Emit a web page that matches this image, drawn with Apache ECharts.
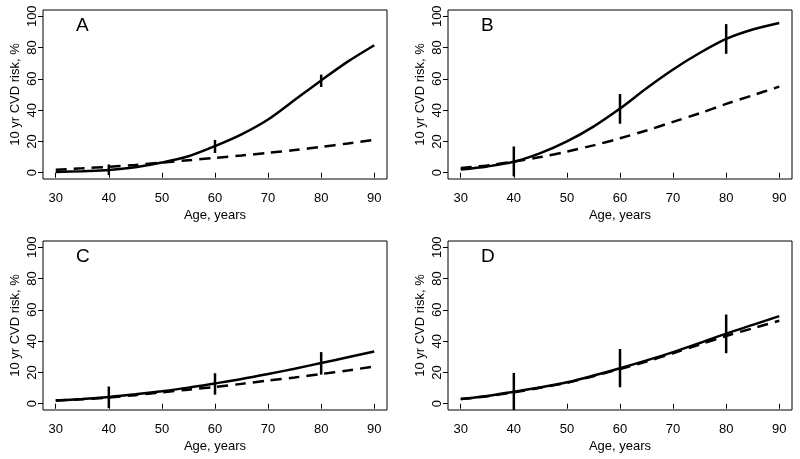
<!DOCTYPE html>
<html>
<head>
<meta charset="utf-8">
<script src="https://cdn.jsdelivr.net/npm/echarts@6/dist/echarts.min.js"></script>
<style>html,body{margin:0;padding:0;background:#fff}#c{width:800px;height:459px}</style>
</head>
<body>
<div id="c"></div>
<script>
// ---- data ----
const ages = [30, 35, 40, 45, 50, 55, 60, 65, 70, 75, 80, 85, 90];
const panelLabels = ['A', 'B', 'C', 'D'];
const xTicks = [30, 40, 50, 60, 70, 80, 90];
const yTicks = [0, 20, 40, 60, 80, 100];

const solidA  = [0.5, 1.0, 1.7, 3.5, 6.5, 10.5, 17, 24.5, 34, 46.5, 59, 71, 81.5];
const dashedA = [1.9, 2.8, 3.8, 5.0, 6.5, 8.0, 9.5, 11, 12.7, 14.5, 16.5, 18.7, 21];
const solidB  = [2, 4, 7, 12.5, 20, 29.5, 41, 54, 66, 76.5, 85.5, 91.5, 95.7];
const dashedB = [3, 4.7, 7.2, 10, 13.5, 17.5, 22, 27, 32.5, 38, 44, 49.5, 55];
const solidC  = [2, 3, 4.3, 6, 8, 10.3, 13, 15.8, 19, 22.4, 26, 29.7, 33.4];
const dashedC = [2, 2.9, 4, 5.5, 7.3, 9, 10.7, 12.7, 14.8, 16.8, 19, 21.3, 23.8];
const solidD  = [3, 5, 7.7, 10.5, 13.7, 18, 22.7, 27.7, 33, 38.8, 44.8, 50.4, 56];
const dashedD = [3, 4.8, 7.3, 10.2, 13.4, 17.6, 22.2, 27, 32.3, 37.8, 43.3, 48.2, 53];

const ciAges = [40, 60, 80];
const ciLowA  = [-1.5, 12.6, 54.8];
const ciHighA = [5.3, 21, 62.7];
const ciLowB  = [-2.3, 31.3, 76];
const ciHighB = [16.8, 50.3, 95];
const ciLowC  = [-2.8, 5.8, 18.6];
const ciHighC = [11, 19.5, 33];
const ciLowD  = [-4.9, 10.5, 32.3];
const ciHighD = [19.7, 35, 57];

const solids = [solidA, solidB, solidC, solidD];
const dasheds = [dashedA, dashedB, dashedC, dashedD];
const ciLows = [ciLowA, ciLowB, ciLowC, ciLowD];
const ciHighs = [ciHighA, ciHighB, ciHighC, ciHighD];

// ---- layout ----
const FONT = 'Liberation Sans, Arial, Helvetica, sans-serif';
const grids = [
  {left: 43, top: 10, width: 344, height: 169},
  {left: 448, top: 10, width: 344, height: 169},
  {left: 43, top: 241, width: 344, height: 169},
  {left: 448, top: 241, width: 344, height: 169}
];

const chart = echarts.init(document.getElementById('c'), null, {renderer: 'canvas'});

const xAxes = [], yAxes = [], series = [], graphics = [];
grids.forEach((g, i) => {
  g.show = true; g.borderColor = '#000'; g.borderWidth = 1; g.backgroundColor = 'transparent';
  g.containLabel = false;
  xAxes.push({
    type: 'value', gridIndex: i, min: 27.6, max: 92.4,
    name: 'Age, years', nameLocation: 'middle', nameGap: 30,
    nameTextStyle: {color: '#000', fontSize: 13, fontFamily: FONT},
    axisLine: {show: false},
    axisTick: {show: true, length: 5, customValues: xTicks, lineStyle: {color: '#000', width: 1}},
    axisLabel: {show: true, customValues: xTicks, color: '#000', fontSize: 13, fontFamily: FONT, margin: 13},
    splitLine: {show: false}
  });
  yAxes.push({
    type: 'value', gridIndex: i, min: -4, max: 104,
    name: '10 yr CVD risk, %', nameLocation: 'middle', nameGap: 21,
    nameTextStyle: {color: '#000', fontSize: 13, fontFamily: FONT},
    axisLine: {show: false},
    axisTick: {show: true, length: 5, customValues: yTicks, lineStyle: {color: '#000', width: 1}},
    axisLabel: {show: true, customValues: yTicks, rotate: 90, color: '#000', fontSize: 13, fontFamily: FONT, margin: 4},
    splitLine: {show: false}
  });
  series.push({
    type: 'line', xAxisIndex: i, yAxisIndex: i, showSymbol: false, symbol: 'none',
    smooth: 0.3, clip: true, z: 3,
    lineStyle: {color: '#000', width: 2.5},
    data: ages.map((a, k) => [a, solids[i][k]])
  });
  series.push({
    type: 'line', xAxisIndex: i, yAxisIndex: i, showSymbol: false, symbol: 'none',
    smooth: 0.3, clip: true, z: 2,
    lineStyle: {color: '#000', width: 2.5, type: [11, 7], cap: 'butt'},
    data: ages.map((a, k) => [a, dasheds[i][k]])
  });
  series.push({
    type: 'custom', xAxisIndex: i, yAxisIndex: i, clip: true, z: 4,
    renderItem: function (params, api) {
      const x = api.value(0), lo = api.value(1), hi = api.value(2);
      const p1 = api.coord([x, lo]);
      const p2 = api.coord([x, hi]);
      return {type: 'line', shape: {x1: p1[0], y1: p1[1], x2: p2[0], y2: p2[1]},
              style: {stroke: '#000', lineWidth: 2.5}};
    },
    data: ciAges.map((a, k) => [a, ciLows[i][k], ciHighs[i][k]])
  });
  graphics.push({
    type: 'text', left: g.left + 33, top: g.top + 6,
    style: {text: panelLabels[i], fill: '#000', font: '19px ' + FONT}
  });
});

chart.setOption({
  animation: false,
  backgroundColor: '#fff',
  grid: grids,
  xAxis: xAxes,
  yAxis: yAxes,
  series: series,
  graphic: graphics
});
</script>
</body>
</html>
